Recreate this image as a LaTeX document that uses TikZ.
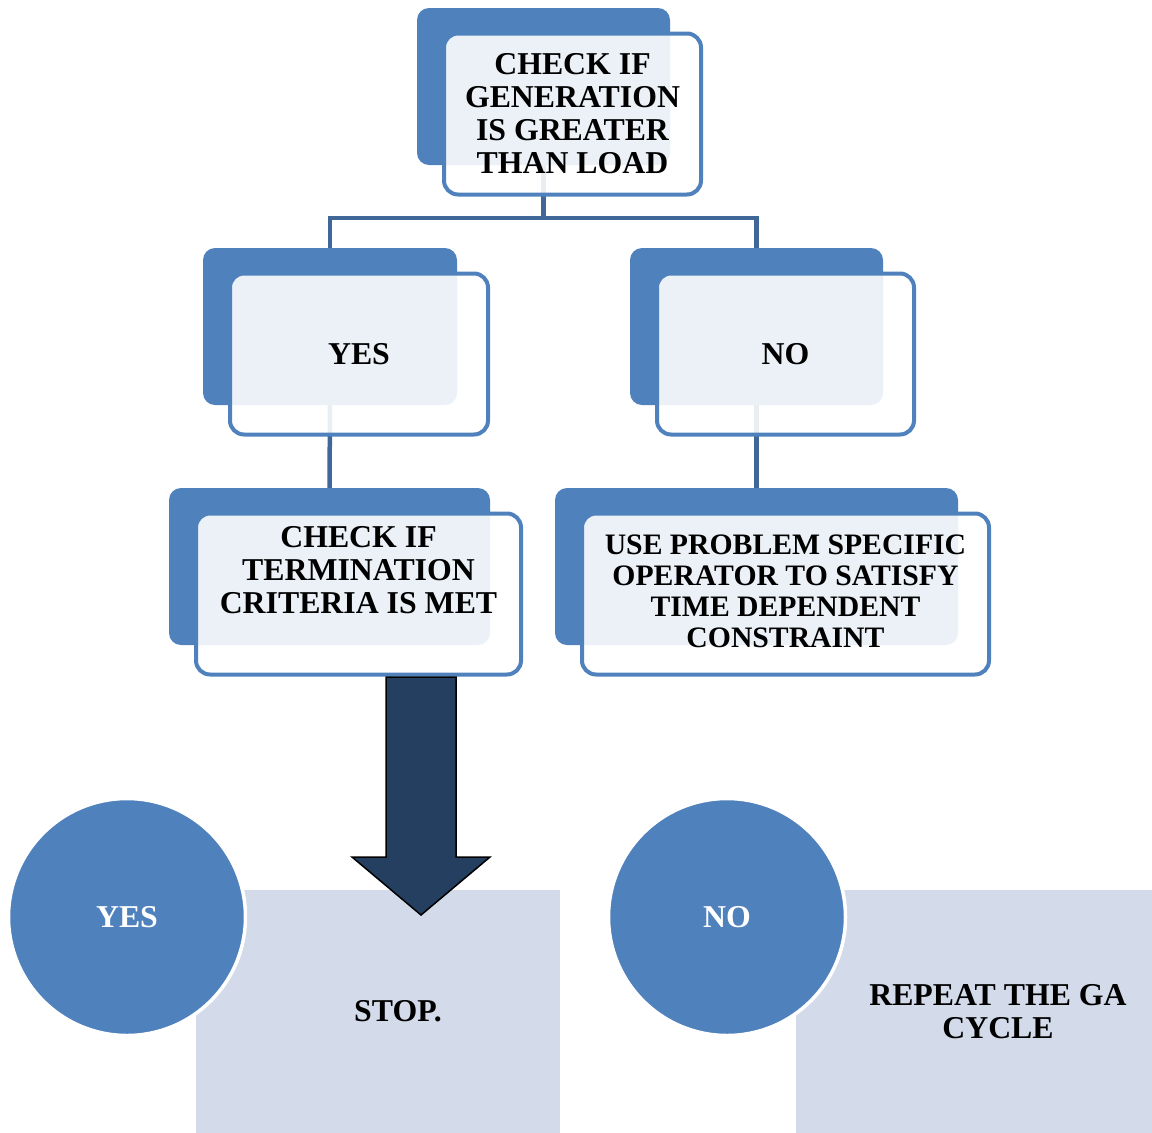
\documentclass[tikz,border=0pt]{standalone}
\usepackage{fontspec}
\setmainfont{Liberation Serif}
\usetikzlibrary{positioning, calc}
\definecolor{accent}{HTML}{4F81BD}
\definecolor{linkblue}{HTML}{3F6797}
\definecolor{arrowfill}{HTML}{243F60}
\definecolor{panelfill}{HTML}{D3DBEA}
\pgfdeclarelayer{background}
\pgfsetlayers{background,main}
\tikzset{
  backbox/.style={fill=accent, rounded corners=12pt, minimum height=157pt, inner sep=0pt},
  frontbox/.style={draw=accent, line width=4pt, fill=white, fill opacity=0.89,
    rounded corners=14pt, minimum height=161pt, inner sep=0pt},
  boxtext/.style={font=\bfseries\fontsize{31.8}{33}\selectfont, align=center, inner sep=0pt},
  link/.style={draw=linkblue, line width=4.5pt},
  bigdot/.style={circle, fill=accent, draw=white, line width=3.5pt, minimum size=237pt,
    inner sep=0pt, text=white, font=\bfseries\fontsize{31.8}{33}\selectfont},
  panel/.style={fill=panelfill, minimum height=243pt, inner sep=0pt},
  bigarrow/.style={fill=arrowfill, draw=black, line width=1.5pt, line join=miter}
}
% back card + front card, front centre at (#2,#3), outer width #4
\newcommand{\gabox}[4]{%
  \node[backbox, minimum width=#4pt-8pt] (#1b) at (#2-29,#3-27.5) {};
  \node[frontbox, minimum width=#4pt-4pt] (#1) at (#2,#3) {};%
}
\begin{document}
\begin{tikzpicture}[x=1pt, y=-1pt]
  \useasboundingbox (0,0) rectangle (1152,1133);

  % cards
  \gabox{top}{572.5}{114}{261}
  \gabox{yes}{359}{354}{262}
  \gabox{no}{785.5}{354}{261}
  \gabox{term}{358.5}{594}{329}
  \gabox{use}{785.5}{594}{411}

  \node[boxtext] (toptext) at (top) {CHECK IF\\GENERATION\\IS GREATER\\THAN LOAD};
  \node[boxtext] (yestext) at (yes) {YES};
  \node[boxtext] (notext) at (no) {NO};
  \node[boxtext] (termtext) at ([yshift=24pt]term.center) {CHECK IF\\TERMINATION\\CRITERIA IS MET};
  \node[boxtext, font=\bfseries\fontsize{29.7}{31}\selectfont] (usetext) at ([yshift=3pt]use.center)
    {USE PROBLEM SPECIFIC\\OPERATOR TO SATISFY\\TIME DEPENDENT\\CONSTRAINT};

  % links behind the cards
  \begin{pgfonlayer}{background}
    \coordinate (split) at ([yshift=-53pt]topb.south);
    \draw[link] (topb.south) -- (split);
    \draw[link] (yesb.north) |- (split) -| (nob.north);
    \draw[link] (yesb.south) -- (termb.north);
    \draw[link] (nob.south) -- (useb.north);
  \end{pgfonlayer}

  % outcome panels
  \node[panel, minimum width=364pt] (stop) at (378,1011.5) {};
  \node[panel, minimum width=356pt] (repeat) at (974,1011.5) {};
  \node[boxtext] (stoptext) at ([xshift=20pt]stop.center) {STOP.};
  \node[boxtext] (repeattext) at ([xshift=24pt]repeat.center) {REPEAT THE GA\\CYCLE};

  \node[bigdot] (yesdot) at (127,917) {YES};
  \node[bigdot] (nodot) at (727,917) {NO};

  % big down arrow
  \draw[bigarrow] (386,677) -- (386,857) -- (352,857) -- (421,915)
    -- (490,857) -- (456,857) -- (456,677) -- cycle;
\end{tikzpicture}
\end{document}
